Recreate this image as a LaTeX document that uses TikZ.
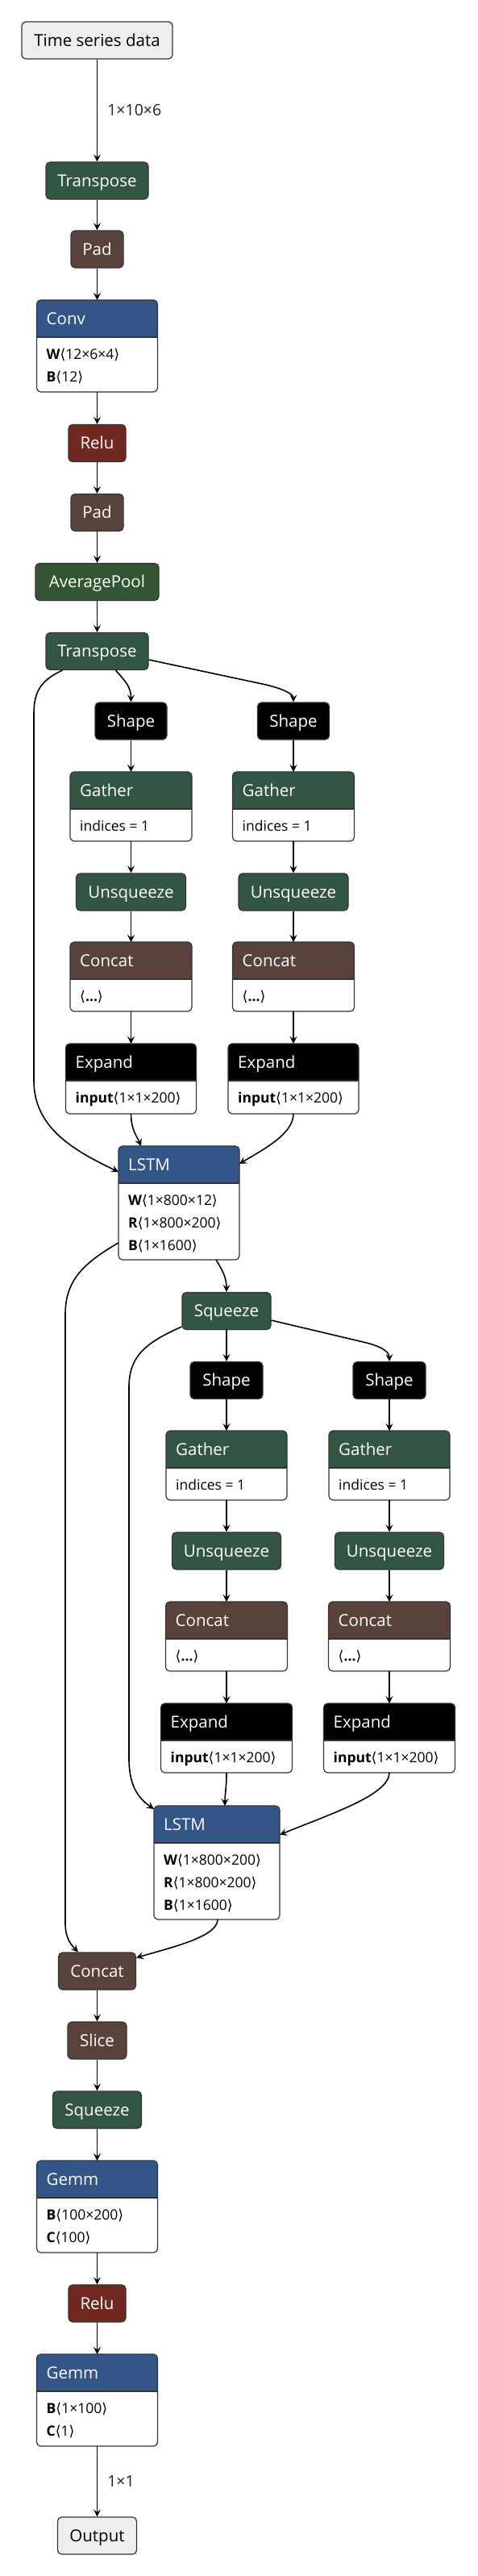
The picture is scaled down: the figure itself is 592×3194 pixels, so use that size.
\documentclass[tikz,border=0pt]{standalone}
\usepackage{fontspec}
\setmainfont{Open Sans}
\newfontfamily\dejavu{DejaVu Sans}
\usetikzlibrary{arrows.meta,calc}
\definecolor{bordc}{HTML}{333333}
\definecolor{cLayer}{HTML}{335588}
\definecolor{cTrans}{HTML}{335544}
\definecolor{cPool}{HTML}{335533}
\definecolor{cAct}{HTML}{702921}
\definecolor{cTensor}{HTML}{59423B}
\definecolor{cIO}{HTML}{EEEEEE}
\definecolor{lblc}{HTML}{222222}
\newcommand\hdrfont{\fontsize{20.5}{24}\selectfont}
\newcommand\attrfont{\fontsize{17.5}{20}\selectfont}
\newcommand\angL{{\dejavu ⟨}}
\newcommand\angR{{\dejavu ⟩}}
\tikzset{
  nd/.style={draw=bordc, line width=1.2pt, rounded corners=5pt, minimum height=46pt,
    inner sep=0pt, text=white, font=\hdrfont, text height=14.6pt, text depth=0pt},
  ionode/.style={nd, fill=cIO, text=black},
  edge/.style={line width=1.6pt, -{Stealth[length=9pt,width=9pt,inset=3.5pt]}},
  lbl/.style={font=\fontsize{19.5}{22}\selectfont, text=lblc, inner sep=0pt},
}
% #1 name, #2 cx, #3 top, #4 width, #5 height, #6 colour, #7 title
\newcommand\attrbox[7]{%
  \node[anchor=north, minimum width=#4, minimum height=#5, inner sep=0pt, outer sep=0pt, fill=white, draw=none] (#1) at (#2,#3) {};
  \begin{scope}
    \clip (#1.north west) rectangle ($(#1.north east)+(0,46)$);
    \fill[#6, rounded corners=5pt] (#1.north west) rectangle (#1.south east);
  \end{scope}
  \draw[bordc, line width=1.2pt] ($(#1.north west)+(0,46)$) -- ($(#1.north east)+(0,46)$);
  \draw[bordc, line width=1.2pt, rounded corners=5pt] (#1.north west) rectangle (#1.south east);
  \node[anchor=base west, inner sep=0pt, text=white, font=\hdrfont] at ($(#1.north west)+(12,30)$) {#7};
}
\newcommand\attrrow[3]{%
  \node[anchor=base west, inner sep=0pt, font=\attrfont, text=black] at ($(#1.north west)+(12,#2)$) {#3};
}
\begin{document}
\begin{tikzpicture}[x=1pt,y=-1pt]
\fill[white] (0,0) rectangle (592,3194);
\useasboundingbox (0,0) rectangle (592,3194);

% main column top
\node[ionode, minimum width=187pt] (tsd) at (120.5,50) {Time series data};
\node[nd, fill=cTrans, minimum width=127pt] (tr1) at (120.5,224) {Transpose};
\node[nd, fill=cTensor, minimum width=65pt] (pad1) at (120.5,309) {Pad};
\attrbox{conv}{120.5}{372}{150pt}{114pt}{cLayer}{Conv}
\attrrow{conv}{73}{\textbf{W}\angL12×6×4\angR}
\attrrow{conv}{101}{\textbf{B}\angL12\angR}
\node[nd, fill=cAct, minimum width=71pt] (relu1) at (120.5,549.5) {Relu};
\node[nd, fill=cTensor, minimum width=65pt] (pad2) at (120.5,635.5) {Pad};
\node[nd, fill=cPool, minimum width=153pt] (avg) at (120.5,721.5) {AveragePool};
\node[nd, fill=cTrans, minimum width=127pt] (tr2) at (120.5,807.5) {Transpose};

% first branch level, left column
\node[nd, fill=black, minimum width=89pt] (shA) at (162.5,894) {Shape};
\attrbox{gaA}{162.5}{957}{151pt}{86pt}{cTrans}{Gather}
\attrrow{gaA}{73}{indices = 1}
\node[nd, fill=cTrans, minimum width=136pt] (unA) at (162.5,1106) {Unsqueeze};
\attrbox{caA}{162.5}{1168}{151pt}{86pt}{cTensor}{Concat}
\attrrow{caA}{73}{\angL\textbf{...}\angR}
\attrbox{exA}{162.5}{1294}{162pt}{87pt}{black}{Expand}
\attrrow{exA}{73}{\textbf{input}\angL1×1×200\angR}

% first branch level, right column
\node[nd, fill=black, minimum width=89pt] (shB) at (364,894) {Shape};
\attrbox{gaB}{364}{957}{151pt}{86pt}{cTrans}{Gather}
\attrrow{gaB}{73}{indices = 1}
\node[nd, fill=cTrans, minimum width=136pt] (unB) at (364,1106) {Unsqueeze};
\attrbox{caB}{364}{1168}{151pt}{86pt}{cTensor}{Concat}
\attrrow{caB}{73}{\angL\textbf{...}\angR}
\attrbox{exB}{364}{1294}{162pt}{87pt}{black}{Expand}
\attrrow{exB}{73}{\textbf{input}\angL1×1×200\angR}

% LSTM 1
\attrbox{lstmA}{222}{1421}{150pt}{141pt}{cLayer}{LSTM}
\attrrow{lstmA}{73}{\textbf{W}\angL1×800×12\angR}
\attrrow{lstmA}{101}{\textbf{R}\angL1×800×200\angR}
\attrrow{lstmA}{129}{\textbf{B}\angL1×1600\angR}

\node[nd, fill=cTrans, minimum width=110pt] (sq1) at (281,1625.5) {Squeeze};

% second branch level, left column
\node[nd, fill=black, minimum width=90pt] (shC) at (281,1711.5) {Shape};
\attrbox{gaC}{281}{1774}{150pt}{86pt}{cTrans}{Gather}
\attrrow{gaC}{73}{indices = 1}
\node[nd, fill=cTrans, minimum width=135pt] (unC) at (281,1923) {Unsqueeze};
\attrbox{caC}{281}{1986}{151pt}{86pt}{cTensor}{Concat}
\attrrow{caC}{73}{\angL\textbf{...}\angR}
\attrbox{exC}{281}{2112}{163pt}{86pt}{black}{Expand}
\attrrow{exC}{73}{\textbf{input}\angL1×1×200\angR}

% second branch level, right column
\node[nd, fill=black, minimum width=90pt] (shD) at (483,1711.5) {Shape};
\attrbox{gaD}{483}{1774}{150pt}{86pt}{cTrans}{Gather}
\attrrow{gaD}{73}{indices = 1}
\node[nd, fill=cTrans, minimum width=135pt] (unD) at (483,1923) {Unsqueeze};
\attrbox{caD}{483}{1986}{151pt}{86pt}{cTensor}{Concat}
\attrrow{caD}{73}{\angL\textbf{...}\angR}
\attrbox{exD}{483}{2112}{163pt}{86pt}{black}{Expand}
\attrrow{exD}{73}{\textbf{input}\angL1×1×200\angR}

% LSTM 2
\attrbox{lstmB}{269}{2239}{156pt}{141pt}{cLayer}{LSTM}
\attrrow{lstmB}{73}{\textbf{W}\angL1×800×200\angR}
\attrrow{lstmB}{101}{\textbf{R}\angL1×800×200\angR}
\attrrow{lstmB}{129}{\textbf{B}\angL1×1600\angR}

% bottom main column
\node[nd, fill=cTensor, minimum width=96pt] (cat3) at (120.5,2444) {Concat};
\node[nd, fill=cTensor, minimum width=73pt] (slice) at (120.5,2530) {Slice};
\node[nd, fill=cTrans, minimum width=110pt] (sq3) at (120.5,2616) {Squeeze};
\attrbox{gemm1}{120.5}{2679}{150pt}{114pt}{cLayer}{Gemm}
\attrrow{gemm1}{73}{\textbf{B}\angL100×200\angR}
\attrrow{gemm1}{101}{\textbf{C}\angL100\angR}
\node[nd, fill=cAct, minimum width=71pt] (relu2) at (120.5,2856) {Relu};
\attrbox{gemm2}{120.5}{2919}{150pt}{114pt}{cLayer}{Gemm}
\attrrow{gemm2}{73}{\textbf{B}\angL1×100\angR}
\attrrow{gemm2}{101}{\textbf{C}\angL1\angR}
\node[ionode, minimum width=98pt] (outp) at (120.5,3144) {Output};

% ---------- edges ----------
\draw[edge] (tsd.south) -- (tr1.north) node[midway, anchor=west, xshift=12pt, lbl] {1×10×6};
\draw[edge] (tr1.south) -- (pad1.north);
\draw[edge] (pad1.south) -- (conv.north);
\draw[edge] (conv.south) -- (relu1.north);
\draw[edge] (relu1.south) -- (pad2.north);
\draw[edge] (pad2.south) -- (avg.north);
\draw[edge] (avg.south) -- (tr2.north);

% Transpose -> LSTM (left bypass)
\draw[edge] ($(tr2.south west)+(21,0)$) .. controls (52,843) and (42,856) .. (42,885)
  -- (42,1340) .. controls (42,1400) and (95,1428) .. ($(lstmA.north west)+(0,32)$);
% Transpose -> Shapes
\draw[edge] ($(tr2.south)+(23,0)$) .. controls (156,845) and (162.5,852) .. (shA.north);
\draw[edge] ($(tr2.east)+(0,10.5)$) -- (330,849) .. controls (358,856) and (364,862) .. (shB.north);

\foreach \c in {A,B}{
  \draw[edge] (sh\c.south) -- (ga\c.north);
  \draw[edge] (ga\c.south) -- (un\c.north);
  \draw[edge] (un\c.south) -- (ca\c.north);
  \draw[edge] (ca\c.south) -- (ex\c.north);
}
\draw[edge] (exA.south) .. controls +(0,20) and +(-5,-12) .. ($(lstmA.north west)+(28,0)$);
\draw[edge] (exB.south) .. controls +(0,25) and +(30,-18) .. ($(lstmA.north east)+(0,22)$);

\draw[edge] ($(lstmA.south)+(46,0)$) .. controls +(8,13) and +(0,-18) .. (sq1.north);
% LSTM1 -> Concat (long bypass)
\draw[edge] ($(lstmA.north west)+(0,120)$) .. controls (100,1568) and (81,1590) .. (81,1630)
  -- (81,2385) .. controls (81,2405) and (90,2413) .. ($(cat3.north west)+(25,0)$);

% Squeeze -> LSTM2 bypass
\draw[edge] ($(sq1.west)+(0,19.5)$) .. controls (180,1665) and (160,1682) .. (160,1720)
  -- (160,2180) .. controls (160,2215) and (172,2230) .. ($(lstmB.north west)+(0,4)$);
\draw[edge] (sq1.south) -- (shC.north);
\draw[edge] ($(sq1.east)+(0,11.5)$) -- (455,1665) .. controls (478,1671) and (483,1678) .. (shD.north);

\foreach \c in {C,D}{
  \draw[edge] (sh\c.south) -- (ga\c.north);
  \draw[edge] (ga\c.south) -- (un\c.north);
  \draw[edge] (un\c.south) -- (ca\c.north);
  \draw[edge] (ca\c.south) -- (ex\c.north);
}
\draw[edge] (exC.south) .. controls +(0,20) and +(0,-15) .. ($(lstmB.north)+(10,0)$);
\draw[edge] (exD.south) .. controls +(0,28) and +(60,-25) .. ($(lstmB.north east)+(0,36)$);

\draw[edge] ($(lstmB.south)+(1,0)$) .. controls +(0,22) and +(40,-12) .. ($(cat3.north east)+(0,7)$);

\draw[edge] (cat3.south) -- (slice.north);
\draw[edge] (slice.south) -- (sq3.north);
\draw[edge] (sq3.south) -- (gemm1.north);
\draw[edge] (gemm1.south) -- (relu2.north);
\draw[edge] (relu2.south) -- (gemm2.north);
\draw[edge] (gemm2.south) -- (outp.north) node[midway, anchor=west, xshift=12pt, lbl] {1×1};
\end{tikzpicture}
\end{document}
